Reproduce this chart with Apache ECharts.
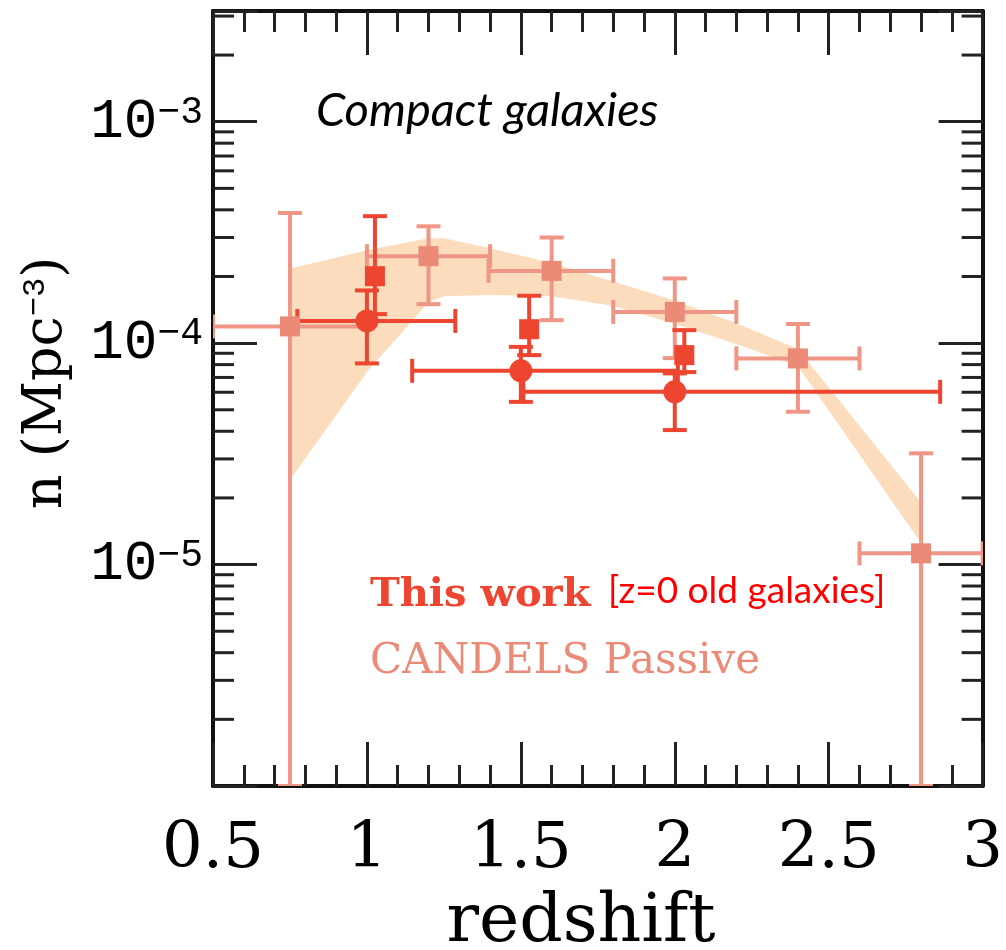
<!DOCTYPE html>
<html><head><meta charset="utf-8">
<script src="https://cdn.jsdelivr.net/npm/echarts@6/dist/echarts.min.js"></script>
<style>html,body{margin:0;padding:0;background:#fff}#c{width:1006px;height:950px}</style>
</head><body><div id="c"></div>
<script>
// ---- data ----
const xTickLabels = ['0.5','1','1.5','2','2.5','3'];
const yTickLabels = ['10−5','10−4','10−3'];

// This work: filled circles
const twCircX   = [1.0, 1.5, 2.0];
const twCircY   = [1.26e-4, 7.5e-5, 6.03e-5];
const twCircXlo = [0.774, 1.147, 1.508];
const twCircXhi = [1.287, 2.01, 2.862];
const twCircYlo = [8.1e-5, 5.43e-5, 4.05e-5];
const twCircYhi = [1.73e-4, 9.62e-5, 7.3e-5];

// This work: filled squares
const twSqX   = [1.026, 1.527, 2.031];
const twSqY   = [2.006e-4, 1.156e-4, 8.83e-5];
const twSqYlo = [1.352e-4, 8.83e-5, 7.4e-5];
const twSqYhi = [3.745e-4, 1.637e-4, 1.145e-4];

// CANDELS Passive
const candX   = [0.75, 1.2, 1.6, 2.0, 2.4, 2.8];
const candY   = [1.19e-4, 2.47e-4, 2.12e-4, 1.384e-4, 8.53e-5, 1.124e-5];
const candXlo = [0.5, 1.0, 1.395, 1.8, 2.2, 2.6];
const candXhi = [1.0, 1.4, 1.8, 2.2, 2.6, 3.0];
const candYlo = [1e-6, 1.5e-4, 1.27e-4, 8.56e-5, 4.9e-5, 1e-6];
const candYhi = [3.87e-4, 3.37e-4, 3.0e-4, 1.96e-4, 1.22e-4, 3.18e-5];

// shaded band
const bandX  = [0.756, 1.0, 1.2, 1.25, 1.4, 1.6, 1.8, 2.0, 2.2, 2.4, 2.8];
const bandHi = [2.18e-4, 2.63e-4, 2.98e-4, 2.98e-4, 2.68e-4, 2.3e-4, 1.9e-4, 1.56e-4, 1.23e-4, 9.4e-5, 1.9e-5];
const bandLo = [2.48e-5, 7.4e-5, 1.53e-4, 1.63e-4, 1.65e-4, 1.63e-4, 1.47e-4, 1.22e-4, 9.9e-5, 7.87e-5, 1.25e-5];

// ---- chart ----
const X_MIN = 0.5, X_MAX = 3, Y_MIN = 1e-6, Y_MAX = Math.pow(10, -2.5);
const RED = '#EE4530', SALMON = '#EC8A78', SALMON_ERR = '#EF9686', BAND = '#FBDCBD';

const minorY = [];
for (let e = -6; e <= -3; e++) for (let m = 2; m <= 9; m++) { const v = m * Math.pow(10, e); if (v < Y_MAX) minorY.push(v); }

function errRender(color, cap, width) {
  return function (params, api) {
    const x = api.value(0), y = api.value(1), xlo = api.value(2), xhi = api.value(3), ylo = api.value(4), yhi = api.value(5);
    const st = { stroke: color, lineWidth: width };
    const ch = [];
    if (xhi > xlo) {
      const a = api.coord([xlo, y]), b = api.coord([xhi, y]);
      ch.push({ type: 'line', shape: { x1: a[0], y1: a[1], x2: b[0], y2: b[1] }, style: st });
      ch.push({ type: 'line', shape: { x1: a[0], y1: a[1] - cap, x2: a[0], y2: a[1] + cap }, style: st });
      ch.push({ type: 'line', shape: { x1: b[0], y1: b[1] - cap, x2: b[0], y2: b[1] + cap }, style: st });
    }
    if (yhi > ylo) {
      const a = api.coord([x, ylo]), b = api.coord([x, yhi]);
      ch.push({ type: 'line', shape: { x1: a[0], y1: a[1], x2: b[0], y2: b[1] }, style: st });
      ch.push({ type: 'line', shape: { x1: a[0] - cap, y1: a[1], x2: a[0] + cap, y2: a[1] }, style: st });
      ch.push({ type: 'line', shape: { x1: b[0] - cap, y1: b[1], x2: b[0] + cap, y2: b[1] }, style: st });
    }
    return { type: 'group', children: ch };
  };
}

const twCircErr = twCircX.map((x, i) => [x, twCircY[i], twCircXlo[i], twCircXhi[i], twCircYlo[i], twCircYhi[i]]);
const twSqErr = twSqX.map((x, i) => [x, twSqY[i], x, x, twSqYlo[i], twSqYhi[i]]);
const candErr = candX.map((x, i) => [x, candY[i], candXlo[i], candXhi[i], candYlo[i], candYhi[i]]);

const axisLineStyle = { color: '#111', width: 4 };
const tickStyle = { color: '#222', width: 3 };

const chart = echarts.init(document.getElementById('c'), null, { renderer: 'canvas' });
chart.setOption({
  animation: false,
  backgroundColor: '#fff',
  grid: { left: 213, top: 11, width: 773, height: 775, containLabel: false },
  xAxis: [
    { type: 'value', position: 'bottom', min: X_MIN, max: X_MAX, interval: 0.5,
      axisLine: { lineStyle: axisLineStyle },
      axisTick: { inside: true, length: 44, lineStyle: tickStyle },
      minorTick: { show: true, splitNumber: 5, length: 21, lineStyle: tickStyle },
      splitLine: { show: false },
      axisLabel: { margin: 32, fontFamily: 'DejaVu Serif', fontSize: 64, color: '#000',
        formatter: v => xTickLabels[Math.round((v - X_MIN) / 0.5)] || '' } },
    { type: 'value', position: 'top', min: X_MIN, max: X_MAX, interval: 0.5,
      axisLine: { lineStyle: axisLineStyle },
      axisTick: { inside: true, length: 44, lineStyle: tickStyle },
      minorTick: { show: true, splitNumber: 5, length: 21, lineStyle: tickStyle },
      splitLine: { show: false }, axisLabel: { show: false } }
  ],
  yAxis: [
    { type: 'log', logBase: 10, position: 'left', min: Y_MIN, max: Y_MAX,
      axisLine: { lineStyle: axisLineStyle },
      axisTick: { inside: true, length: 44, lineStyle: tickStyle },
      splitLine: { show: false },
      axisLabel: { margin: 10, color: '#000',
        formatter: v => {
          const e = Math.log10(v), r = Math.round(e);
          if (Math.abs(e - r) > 1e-6) return '';
          const lbl = yTickLabels[r + 5];
          if (!lbl) return '';
          return '{b|10}{s|' + lbl.slice(2) + '}';
        },
        rich: {
          b: { fontFamily: 'Liberation Mono', fontSize: 56, color: '#000', lineHeight: 56 },
          s: { fontFamily: 'Liberation Mono', fontSize: 38, color: '#000', verticalAlign: 'top', lineHeight: 56 }
        } } },
    { type: 'log', logBase: 10, position: 'right', min: Y_MIN, max: Y_MAX,
      axisLine: { lineStyle: axisLineStyle },
      axisTick: { inside: true, length: 44, lineStyle: tickStyle },
      splitLine: { show: false }, axisLabel: { show: false } }
  ],
  series: [
    { type: 'custom', name: 'band', clip: true, xAxisIndex: 0, yAxisIndex: 0,
      data: [[bandX[0], bandHi[0]]], encode: { x: 0, y: 1 },
      renderItem: function (params, api) {
        const pts = [];
        for (let i = 0; i < bandX.length; i++) pts.push(api.coord([bandX[i], bandHi[i]]));
        for (let i = bandX.length - 1; i >= 0; i--) pts.push(api.coord([bandX[i], bandLo[i]]));
        return { type: 'polygon', shape: { points: pts }, style: { fill: BAND } };
      } },
    { type: 'custom', name: 'minorY', clip: true, xAxisIndex: 0, yAxisIndex: 0,
      data: minorY.map(v => [X_MIN, v]), encode: { x: 0, y: 1 }, z: 5,
      renderItem: function (params, api) {
        const l = api.coord([X_MIN, api.value(1)]), r = api.coord([X_MAX, api.value(1)]);
        return { type: 'group', children: [
          { type: 'line', shape: { x1: l[0], y1: l[1], x2: l[0] + 21, y2: l[1] }, style: { stroke: '#222', lineWidth: 3 } },
          { type: 'line', shape: { x1: r[0] - 21, y1: r[1], x2: r[0], y2: r[1] }, style: { stroke: '#222', lineWidth: 3 } }
        ] };
      } },
    { type: 'custom', name: 'candErr', clip: true, data: candErr, encode: { x: 0, y: 1 },
      renderItem: errRender(SALMON_ERR, 12, 4) },
    { type: 'scatter', name: 'CANDELS Passive', data: candX.map((x, i) => [x, candY[i]]),
      symbol: 'rect', symbolSize: 20, itemStyle: { color: SALMON, opacity: 1 } },
    { type: 'custom', name: 'twErrC', clip: true, data: twCircErr, encode: { x: 0, y: 1 },
      renderItem: errRender(RED, 12, 4) },
    { type: 'custom', name: 'twErrS', clip: true, data: twSqErr, encode: { x: 0, y: 1 },
      renderItem: errRender(RED, 12, 4) },
    { type: 'scatter', name: 'This work circles', data: twCircX.map((x, i) => [x, twCircY[i]]),
      symbol: 'circle', symbolSize: 23, itemStyle: { color: RED, opacity: 1 } },
    { type: 'scatter', name: 'This work squares', data: twSqX.map((x, i) => [x, twSqY[i]]),
      symbol: 'rect', symbolSize: 20, itemStyle: { color: RED, opacity: 1 } }
  ],
  graphic: [
    { type: 'text', x: 316, y: 111, style: { text: 'Compact galaxies', fontFamily: 'Lato', fontStyle: 'italic', fontSize: 47, fill: '#000', align: 'left', verticalAlign: 'middle' } },
    { type: 'text', x: 370, y: 596, style: { text: 'This work', fontFamily: 'DejaVu Serif', fontWeight: 'bold', fontSize: 40, fill: RED, align: 'left', verticalAlign: 'middle' } },
    { type: 'text', x: 608, y: 591, style: { text: '[z=0 old galaxies]', fontFamily: 'Lato', fontSize: 37, fill: '#FF0000', align: 'left', verticalAlign: 'middle' } },
    { type: 'text', x: 370, y: 662, style: { text: 'CANDELS Passive', fontFamily: 'DejaVu Serif', fontSize: 42, fill: SALMON, align: 'left', verticalAlign: 'middle' } },
    { type: 'text', x: 581, y: 923, style: { text: 'redshift', fontFamily: 'DejaVu Serif', fontSize: 68, fill: '#000', align: 'center', verticalAlign: 'middle' } },
    { type: 'text', x: 47, y: 383, rotation: Math.PI / 2,
      style: { text: '{n|n (Mpc}{s|−3}{n|)}', align: 'center', verticalAlign: 'middle',
        rich: { n: { fontFamily: 'DejaVu Serif', fontSize: 54, fill: '#000', lineHeight: 54 },
                s: { fontFamily: 'Liberation Mono', fontSize: 32, fill: '#000', verticalAlign: 'top', lineHeight: 54 } } } }
  ]
});
</script></body></html>
